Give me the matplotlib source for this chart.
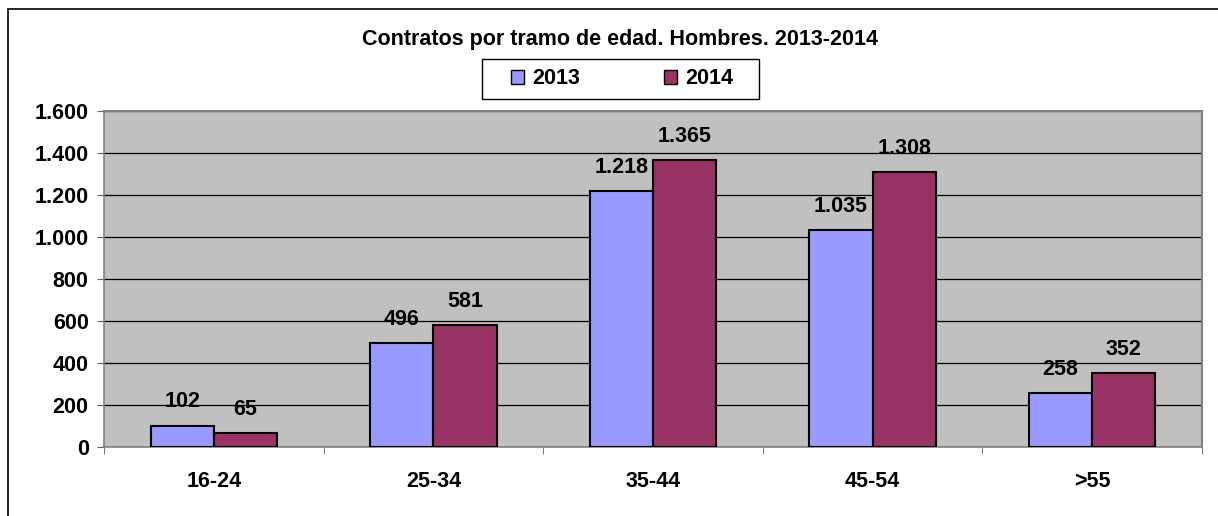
import matplotlib.pyplot as plt
import matplotlib.patches as mpatches
import numpy as np

plt.rcParams['font.family'] = ['Liberation Sans', 'DejaVu Sans']
plt.rcParams['font.weight'] = 'bold'

categories = ['16-24', '25-34', '35-44', '45-54', '>55']
v2013 = [102, 496, 1218, 1035, 258]
v2014 = [65, 581, 1365, 1308, 352]
series_names = ['2013', '2014']
yticks = [0, 200, 400, 600, 800, 1000, 1200, 1400, 1600]

def fmt(v):
    return f'{v:,}'.replace(',', '.')

W, H = 1218, 516
fs = 15.5
fig = plt.figure(figsize=(W / 100, H / 100), dpi=100)
ax = fig.add_axes([104 / W, 1 - 447 / H, (1202 - 104) / W, (447 - 111) / H])

# outer chart frame (clipped at right and bottom like the reference)
fig.patches.append(mpatches.Rectangle((8 / W, -0.1), 1.2, 1 - 9 / H + 0.1,
                                      transform=fig.transFigure, fill=False,
                                      edgecolor='black', linewidth=1.2))
# legend frame
fig.patches.append(mpatches.Rectangle((482 / W, 1 - 99 / H), (759 - 482) / W, 40 / H,
                                      transform=fig.transFigure, fill=False,
                                      edgecolor='black', linewidth=1.0))

x = np.arange(len(categories))
bw = 0.288
ax.set_facecolor('#C0C0C0')
ax.bar(x - bw / 2, v2013, bw, color='#9999FF', edgecolor='black', linewidth=1.5,
       label=series_names[0], zorder=3)
ax.bar(x + bw / 2, v2014, bw, color='#993366', edgecolor='black', linewidth=1.5,
       label=series_names[1], zorder=3)

for xi, v in zip(x - bw / 2, v2013):
    ax.annotate(fmt(v), (xi, v), xytext=(0, 17), textcoords='offset points',
                ha='center', va='center', fontsize=fs, fontweight='bold')
for xi, v in zip(x + bw / 2, v2014):
    ax.annotate(fmt(v), (xi, v), xytext=(0, 17), textcoords='offset points',
                ha='center', va='center', fontsize=fs, fontweight='bold')

ax.set_xlim(-0.5, len(categories) - 0.5)
ax.set_ylim(0, 1600)
ax.set_yticks(yticks)
ax.set_yticklabels([fmt(t) for t in yticks], fontsize=fs, fontweight='bold')
ax.yaxis.grid(True, color='black', linewidth=0.9, zorder=1)
ax.set_axisbelow(True)

ax.set_xticks(x)
ax.set_xticklabels(categories, fontsize=fs, fontweight='bold')
ax.tick_params(axis='x', length=0, pad=17)
ax.set_xticks(np.arange(len(categories) + 1) - 0.5, minor=True)
ax.tick_params(axis='x', which='minor', length=5, direction='out', color='#606060')
ax.tick_params(axis='y', length=5, direction='out', color='#606060', pad=6)

for s in ['top', 'right']:
    ax.spines[s].set_color('#808080')
    ax.spines[s].set_linewidth(1.5)
ax.spines['left'].set_color('#808080')
ax.spines['bottom'].set_color('#808080')
ax.spines['left'].set_linewidth(1.2)
ax.spines['bottom'].set_linewidth(1.2)

fig.text(620 / W, 1 - 40 / H, 'Contratos por tramo de edad. Hombres. 2013-2014',
         ha='center', va='center', fontsize=15.5, fontweight='bold')

leg = ax.legend(loc='center', bbox_to_anchor=(622 / W, 1 - 79 / H),
                bbox_transform=fig.transFigure, ncol=2, frameon=False,
                fontsize=fs, handlelength=0.6, handleheight=0.6,
                columnspacing=3.9, handletextpad=0.37, borderpad=0.2)
for h in leg.legend_handles:
    h.set_linewidth(1.0)

fig.savefig('out.png', dpi=100)
